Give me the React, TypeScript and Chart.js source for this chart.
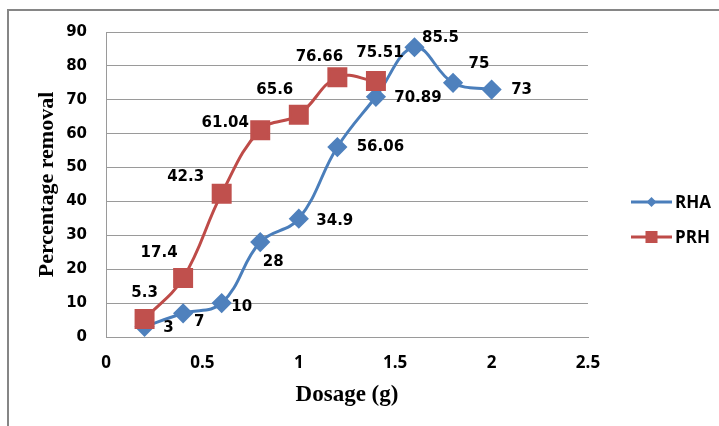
import React, { useEffect, useRef } from "react";
import { Chart, registerables } from "chart.js";

Chart.register(...registerables);

const dosageRHA = [0.2, 0.4, 0.6, 0.8, 1.0, 1.2, 1.4, 1.6, 1.8, 2.0];
const removalRHA = [3, 7, 10, 28, 34.9, 56.06, 70.89, 85.5, 75, 73];
const dosagePRH = [0.2, 0.4, 0.6, 0.8, 1.0, 1.2, 1.4];
const removalPRH = [5.3, 17.4, 42.3, 61.04, 65.6, 76.66, 75.51];
const xTicks = [0, 0.5, 1, 1.5, 2, 2.5];
const yTicks = [0, 10, 20, 30, 40, 50, 60, 70, 80, 90];

// label offsets (pixels) relative to each point
const labelOffsetRHA = [
  [24, 1], [16, 9], [20, 4], [13, 20], [36, 2], [43, 0], [42, 1], [26, -9], [26, -19], [30, 0],
];
const labelOffsetPRH = [
  [0, -26], [-24, -25], [-36, -17], [-35, -7], [-24, -25], [-18, -20], [4, -28],
];

const BLUE_LINE = "#4A7EBB";
const BLUE_MARK = "#4F81BD";
const RED_LINE = "#BE4B48";
const RED_MARK = "#C0504D";

const framePlugin = {
  id: "frame",
  beforeDraw(chart: any) {
    const ctx = chart.ctx;
    ctx.save();
    ctx.strokeStyle = "#868686";
    ctx.lineWidth = 2;
    ctx.beginPath();
    ctx.moveTo(8, 426);
    ctx.lineTo(8, 10);
    ctx.lineTo(719, 10);
    ctx.stroke();
    ctx.restore();
  },
};

const labelsPlugin = {
  id: "pointLabels",
  afterDatasetsDraw(chart: any) {
    const ctx = chart.ctx;
    const offsets = [labelOffsetRHA, labelOffsetPRH];
    ctx.save();
    ctx.font = "bold 15px 'DejaVu Sans', Verdana, sans-serif";
    ctx.fillStyle = "#000";
    ctx.textAlign = "center";
    ctx.textBaseline = "middle";
    chart.data.datasets.forEach((ds: any, di: number) => {
      const meta = chart.getDatasetMeta(di);
      meta.data.forEach((el: any, i: number) => {
        const off = offsets[di][i];
        const v = ds.data[i].y;
        ctx.fillText(String(v), el.x + off[0], el.y + off[1]);
      });
    });
    ctx.restore();
  },
};

const legendPlugin = {
  id: "customLegend",
  afterDraw(chart: any) {
    const ctx = chart.ctx;
    const items = [
      { text: "RHA", line: BLUE_LINE, mark: BLUE_MARK, style: "rectRot", r: 5, y: 202 },
      { text: "PRH", line: RED_LINE, mark: RED_MARK, style: "rect", r: 8.5, y: 237 },
    ];
    ctx.save();
    items.forEach((it) => {
      ctx.strokeStyle = it.line;
      ctx.lineWidth = 3;
      ctx.beginPath();
      ctx.moveTo(631, it.y);
      ctx.lineTo(672, it.y);
      ctx.stroke();
      ctx.fillStyle = it.mark;
      if (it.style === "rect") {
        const s = it.r * Math.SQRT1_2;
        ctx.fillRect(651.5 - s, it.y - s, 2 * s, 2 * s);
      } else {
        ctx.beginPath();
        ctx.moveTo(651.5, it.y - it.r);
        ctx.lineTo(651.5 + it.r, it.y);
        ctx.lineTo(651.5, it.y + it.r);
        ctx.lineTo(651.5 - it.r, it.y);
        ctx.closePath();
        ctx.fill();
      }
      ctx.fillStyle = "#000";
      ctx.font = "bold 17px 'Open Sans', sans-serif";
      ctx.textAlign = "left";
      ctx.textBaseline = "middle";
      ctx.fillText(it.text, 675, it.y + 1);
    });
    ctx.restore();
  },
};

export default function App() {
  const ref = useRef<HTMLCanvasElement | null>(null);
  useEffect(() => {
    if (!ref.current) return;
    const chart = new Chart(ref.current, {
      type: "line",
      data: {
        datasets: [
          {
            label: "RHA",
            data: dosageRHA.map((x, i) => ({ x, y: removalRHA[i] })),
            borderColor: BLUE_LINE,
            backgroundColor: BLUE_MARK,
            pointBackgroundColor: BLUE_MARK,
            pointBorderColor: BLUE_MARK,
            pointStyle: "rectRot",
            pointRadius: 8,
            borderWidth: 3,
            tension: 0.4,
            order: 1,
          },
          {
            label: "PRH",
            data: dosagePRH.map((x, i) => ({ x, y: removalPRH[i] })),
            borderColor: RED_LINE,
            backgroundColor: RED_MARK,
            pointBackgroundColor: RED_MARK,
            pointBorderColor: RED_MARK,
            pointStyle: "rect",
            pointRadius: 12,
            borderWidth: 3,
            tension: 0.4,
            order: 0,
          },
        ],
      },
      options: {
        responsive: false,
        animation: false,
        events: [],
        layout: { padding: { left: 0, right: 131, top: 32, bottom: 0 } },
        plugins: {
          legend: { display: false },
          tooltip: { enabled: false },
        },
        scales: {
          x: {
            type: "linear",
            min: 0,
            max: 2.5,
            afterFit: (s: any) => {
              s.height = 89;
            },
            afterBuildTicks: (s: any) => {
              s.ticks = xTicks.map((v) => ({ value: v }));
            },
            grid: { display: false, drawTicks: false },
            border: { display: true, color: "#9a9a9a", width: 1 },
            ticks: {
              padding: 16,
              color: "#000",
              font: { family: "'Open Sans', sans-serif", size: 17, weight: "bold" },
              maxRotation: 0,
              callback: (v: any) => String(v),
            },
            title: {
              display: true,
              text: "Dosage (g)",
              color: "#000",
              font: { family: "'Liberation Serif', 'Times New Roman', serif", size: 23, weight: "bold" },
              padding: { top: 0, bottom: 17 },
            },
          },
          y: {
            type: "linear",
            min: 0,
            max: 90,
            afterFit: (s: any) => {
              s.width = 106;
            },
            afterBuildTicks: (s: any) => {
              s.ticks = yTicks.map((v) => ({ value: v }));
            },
            grid: { display: true, color: "#9a9a9a", lineWidth: 1, drawTicks: false },
            border: { display: true, color: "#9a9a9a", width: 1 },
            ticks: {
              padding: 19,
              color: "#000",
              font: { family: "'DejaVu Sans', Verdana, sans-serif", size: 15, weight: "bold" },
            },
            title: {
              display: true,
              text: "Percentage removal",
              color: "#000",
              font: { family: "'Liberation Serif', 'Times New Roman', serif", size: 22, weight: "bold" },
              padding: { top: 34, bottom: 0 },
            },
          },
        },
      },
      plugins: [framePlugin, labelsPlugin, legendPlugin],
    });
    return () => chart.destroy();
  }, []);
  return (
    <canvas
      ref={ref}
      width={719}
      height={426}
      style={{ position: "absolute", left: 0, top: 0, display: "block", background: "#fff" }}
    />
  );
}
